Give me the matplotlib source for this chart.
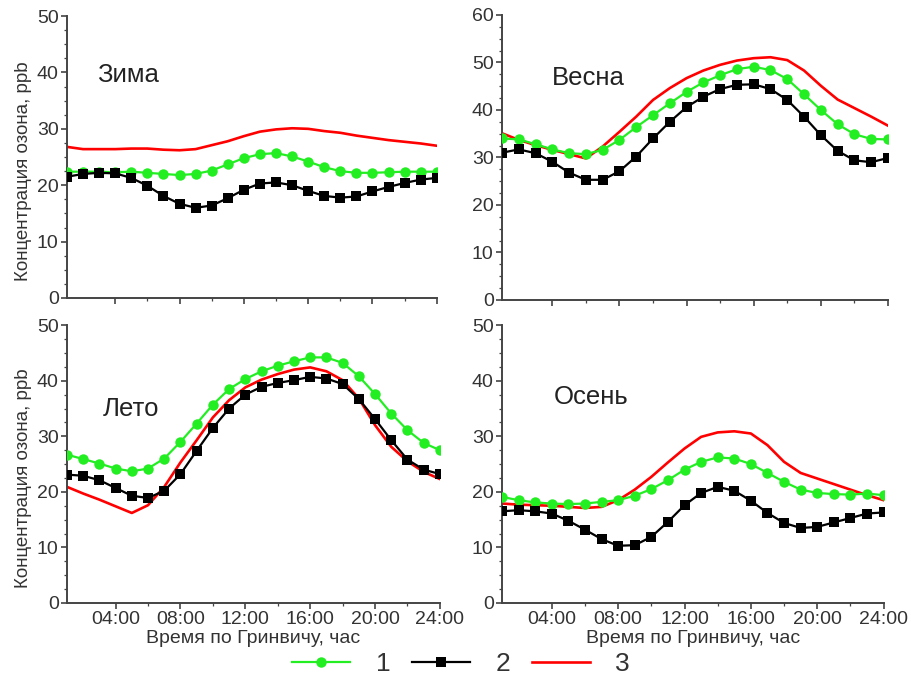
import matplotlib
matplotlib.use("Agg")
import matplotlib.pyplot as plt
from matplotlib.ticker import FixedLocator, MultipleLocator, FuncFormatter

plt.rcParams['font.family'] = ['Liberation Sans', 'DejaVu Sans']

hours = list(range(1, 25))

# зима
winter_1 = [22.4, 22.4, 22.4, 22.3, 22.4, 22.2, 22.0, 21.8, 22.0, 22.6, 23.7, 24.8,
            25.5, 25.7, 25.1, 24.2, 23.2, 22.5, 22.2, 22.2, 22.3, 22.4, 22.4, 22.4]
winter_2 = [21.5, 22.0, 22.2, 22.1, 21.3, 19.9, 18.1, 16.7, 16.0, 16.4, 17.7, 19.2,
            20.3, 20.5, 20.0, 19.0, 18.1, 17.8, 18.0, 18.9, 19.7, 20.4, 21.0, 21.3]
winter_3 = [26.8, 26.4, 26.4, 26.4, 26.5, 26.5, 26.3, 26.2, 26.4, 27.1, 27.8, 28.7,
            29.5, 29.9, 30.1, 30.0, 29.6, 29.3, 28.8, 28.4, 28.0, 27.7, 27.4, 27.0]

# весна
spring_1 = [34.0, 33.8, 32.8, 31.7, 30.9, 30.7, 31.6, 33.7, 36.4, 38.9, 41.4, 43.8,
            45.8, 47.3, 48.6, 49.1, 48.4, 46.5, 43.3, 40.0, 37.0, 34.9, 33.9, 33.8]
spring_2 = [31.0, 31.7, 30.9, 29.1, 26.8, 25.3, 25.3, 27.1, 30.2, 34.0, 37.5, 40.6,
            42.8, 44.4, 45.3, 45.4, 44.4, 42.1, 38.6, 34.7, 31.4, 29.4, 29.0, 29.9]
spring_3 = [35.1, 33.7, 32.6, 31.6, 30.7, 29.8, 32.3, 35.4, 38.6, 42.1, 44.6, 46.7,
            48.3, 49.5, 50.4, 50.9, 51.1, 50.5, 48.3, 45.1, 42.2, 40.4, 38.6, 36.7]

# лето
summer_1 = [26.7, 25.9, 25.1, 24.2, 23.7, 24.2, 26.0, 29.0, 32.3, 35.7, 38.5, 40.3,
            41.7, 42.7, 43.5, 44.2, 44.2, 43.2, 40.8, 37.6, 34.1, 31.1, 28.8, 27.5]
summer_2 = [23.1, 22.9, 22.1, 20.7, 19.3, 18.9, 20.2, 23.2, 27.4, 31.5, 35.0, 37.5,
            38.9, 39.6, 40.1, 40.7, 40.4, 39.4, 36.7, 33.1, 29.3, 25.8, 24.0, 23.2]
summer_3 = [20.9, 19.7, 18.6, 17.4, 16.2, 17.6, 20.9, 25.3, 29.3, 33.4, 36.5, 38.8,
            40.2, 41.2, 42.0, 42.4, 41.7, 40.1, 36.8, 32.0, 28.1, 25.5, 23.6, 22.3]

# осень
autumn_1 = [19.1, 18.5, 18.1, 17.9, 17.8, 17.9, 18.2, 18.5, 19.3, 20.5, 22.1, 24.0,
            25.4, 26.2, 26.0, 25.0, 23.4, 21.8, 20.4, 19.8, 19.6, 19.5, 19.7, 19.4]
autumn_2 = [16.5, 16.7, 16.5, 16.1, 14.8, 13.2, 11.5, 10.3, 10.4, 11.9, 14.6, 17.6,
            19.8, 20.9, 20.2, 18.4, 16.2, 14.4, 13.5, 13.7, 14.5, 15.3, 16.1, 16.3]
autumn_3 = [17.9, 17.7, 17.6, 17.5, 17.3, 17.1, 17.3, 18.5, 20.4, 22.7, 25.3, 27.8,
            29.9, 30.7, 30.9, 30.5, 28.4, 25.4, 23.4, 22.4, 21.4, 20.4, 19.4, 18.5]

seasons = ["Зима", "Весна", "Лето", "Осень"]
legend_labels = ["1", "2", "3"]

txt = '#333333'
fig = plt.figure(figsize=(9.11, 6.86), dpi=100)

# положение панелей в долях фигуры
boxes = [
    [0.0735, 0.5656, 0.406, 0.411],
    [0.551, 0.5627, 0.4237, 0.4155],
    [0.0735, 0.121, 0.4094, 0.405],
    [0.551, 0.121, 0.419, 0.405],
]
data = [
    (winter_1, winter_2, winter_3, 50, (2.9, 39.5)),
    (spring_1, spring_2, spring_3, 60, (4.0, 46.7)),
    (summer_1, summer_2, summer_3, 50, (3.2, 34.9)),
    (autumn_1, autumn_2, autumn_3, 50, (4.1, 37.0)),
]

handles = None
for i, (box, (s1, s2, s3, ymax, lab_pos)) in enumerate(zip(boxes, data)):
    ax = fig.add_axes(box)
    l3, = ax.plot(hours, s3, color='#ff0000', lw=1.9, zorder=2)
    l1, = ax.plot(hours, s1, color='#22ee22', lw=1.6, marker='o', ms=7.5,
                  markeredgewidth=0, zorder=3)
    l2, = ax.plot(hours, s2, color='black', lw=1.6, marker='s', ms=6.5,
                  markeredgewidth=0, zorder=4)
    handles = [l1, l2, l3]

    ax.set_xlim(1, 24)
    ax.set_ylim(0, ymax)
    ax.xaxis.set_major_locator(FixedLocator([4, 8, 12, 16, 20, 24]))
    ax.xaxis.set_minor_locator(FixedLocator([6, 10, 14, 18, 22]))
    ax.xaxis.set_major_formatter(FuncFormatter(lambda v, p: "%02d:00" % int(v)))
    ax.yaxis.set_major_locator(MultipleLocator(10))
    ax.yaxis.set_minor_locator(MultipleLocator(2.5))

    for side in ['top', 'right']:
        ax.spines[side].set_visible(False)
    for side in ['left', 'bottom']:
        ax.spines[side].set_linewidth(1.4)
        ax.spines[side].set_color('#444444')
    ax.tick_params(which='major', direction='out', length=4, width=1.2,
                   colors='#444444', labelcolor=txt, labelsize=14, pad=2)
    ax.tick_params(which='minor', direction='out', length=2.5, width=0.9,
                   colors='#444444')

    if i < 2:
        ax.tick_params(axis='x', labelbottom=False)
    else:
        ax.set_xlabel("Время по Гринвичу, час", fontsize=14, color=txt, labelpad=1)
    if i % 2 == 0:
        ax.set_ylabel("Концентрация озона, ppb", fontsize=13.5, color=txt)
        ax.yaxis.set_label_coords(-0.095, 0.45)

    ax.text(lab_pos[0], lab_pos[1], seasons[i], fontsize=18.5, color='#222222',
            va='center', ha='left')

fig.legend(handles, legend_labels, loc='center', bbox_to_anchor=(0.506, 0.032),
           ncol=3, frameon=False, fontsize=19, handlelength=2.2,
           columnspacing=0.83, handletextpad=0.95, labelcolor=txt)

fig.savefig("out.png", dpi=100)
